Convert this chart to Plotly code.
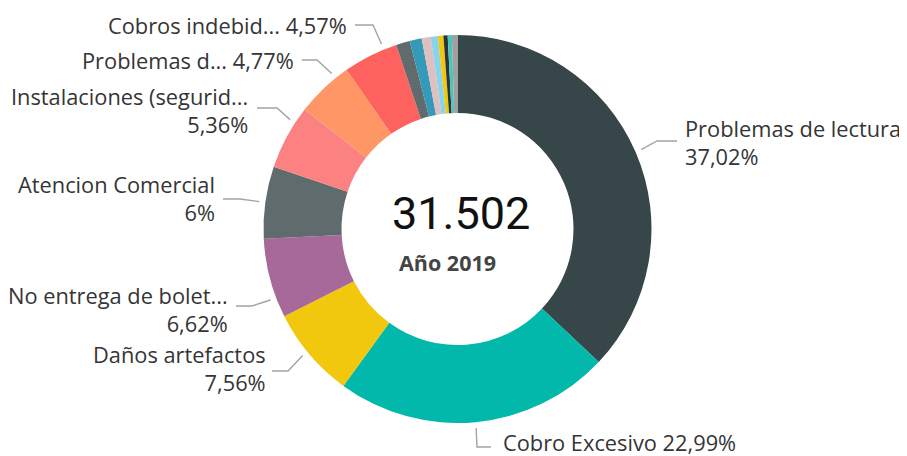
import numpy as np
import plotly.graph_objects as go

# ---------------- data ----------------
categories = [
    "Problemas de lectura", "Cobro Excesivo", "Daños artefactos",
    "No entrega de bolet...", "Atencion Comercial", "Instalaciones (segurid...",
    "Problemas d...", "Cobros indebid...",
    "Otro 1", "Otro 2", "Otro 3", "Otro 4", "Otro 5", "Otro 6", "Otro 7", "Otro 8",
]
values = [37.02, 22.99, 7.56, 6.62, 6.00, 5.36, 4.77, 4.57,
          1.15, 1.00, 0.75, 0.60, 0.45, 0.35, 0.35, 0.46]
pct_labels = ["37,02%", "22,99%", "7,56%", "6,62%", "6%", "5,36%", "4,77%", "4,57%"]
total_label = "31.502"
year_label = "Año 2019"

# ---------------- style / layout ----------------
colors = ["#374649", "#01B8AA", "#F2C80F", "#A66999", "#5F6B6D", "#FB8281",
          "#FE9666", "#FD625E", "#5F6B6D", "#3599B8", "#DFBFBF", "#8AD4EB",
          "#F2C80F", "#293537", "#4AC5BB", "#A0A0A0"]
W, H = 907, 456          # window size
OFF = 8                  # default body margin of the html page
FW, FH = W - OFF, H - OFF
CX, CY, R = 457.5, 229.0, 194.0
FONT = "Open Sans"
FS = 21.8
TXT = "#353535"
LINE = "#a3a3a3"

# per-label layout: anchor fraction within slice, elbow, end of horizontal, text pos, side, single-line
lab_frac = [0.5, 0.5, 0.54, 0.25, 0.5, 0.75, 0.76, 0.76]
elbows = [(657, 141), (477, 447), (288, 371), (252, 306), (240, 199), (277, 108), (317, 60), (373, 25)]
ends = [(677, 141), (491, 447), (272, 371), (236, 306), (223, 199), (257, 108), (302, 60), (355, 25)]
text_x = [683, 501, 268, 230, 217, 250, 296, 349]
text_y = [142.5, 442, 368, 309.5, 198.5, 110, 60, 25]
side = ["left", "left", "right", "right", "right", "right", "right", "right"]
single = [False, True, False, False, False, False, True, True]

fig = go.Figure()
fig.add_trace(go.Pie(
    labels=categories, values=values, sort=False, direction="clockwise", rotation=0,
    hole=0.598, marker=dict(colors=colors, line=dict(width=0)),
    textinfo="none", hoverinfo="label+percent", showlegend=False,
    domain=dict(x=[(CX - R - OFF) / FW, (CX + R - OFF) / FW],
                y=[1 - (CY + R - OFF) / FH, 1 - (CY - R - OFF) / FH]),
))

tot = float(np.sum(values))
cum = np.concatenate([[0.0], np.cumsum(values)]) / tot
annotations = []

for i in range(len(pct_labels)):
    frac = cum[i] + lab_frac[i] * (cum[i + 1] - cum[i])
    ang = 2 * np.pi * frac
    sx = CX + 200 * np.sin(ang)
    sy = CY - 200 * np.cos(ang)
    xs = [sx, elbows[i][0], ends[i][0]]
    ys = [sy, elbows[i][1], ends[i][1]]
    fig.add_trace(go.Scatter(x=xs, y=ys, mode="lines", line=dict(color=LINE, width=1.4),
                             hoverinfo="skip", showlegend=False, xaxis="x", yaxis="y"))
    sep = " " if single[i] else "<br>"
    annotations.append(dict(
        x=text_x[i], y=text_y[i], xref="x", yref="y", showarrow=False,
        text=categories[i] + sep + pct_labels[i],
        xanchor=side[i], yanchor="middle", align=side[i],
        font=dict(family=FONT, size=FS, color=TXT),
    ))

annotations.append(dict(x=461, y=213, xref="x", yref="y", showarrow=False, text=total_label,
                        xanchor="center", yanchor="middle",
                        font=dict(family="Roboto", size=45, color="#111111")))
annotations.append(dict(x=447, y=262, xref="x", yref="y", showarrow=False,
                        text="<b>" + year_label + "</b>",
                        xanchor="center", yanchor="middle",
                        font=dict(family=FONT, size=21.5, color="#444444")))

fig.update_layout(
    width=FW, height=FH, margin=dict(l=0, r=0, t=0, b=0),
    paper_bgcolor="white", plot_bgcolor="rgba(0,0,0,0)",
    xaxis=dict(range=[OFF, W], visible=False, fixedrange=True, domain=[0, 1]),
    yaxis=dict(range=[H, OFF], visible=False, fixedrange=True, domain=[0, 1]),
    annotations=annotations,
)
fig.write_html("out.html")
